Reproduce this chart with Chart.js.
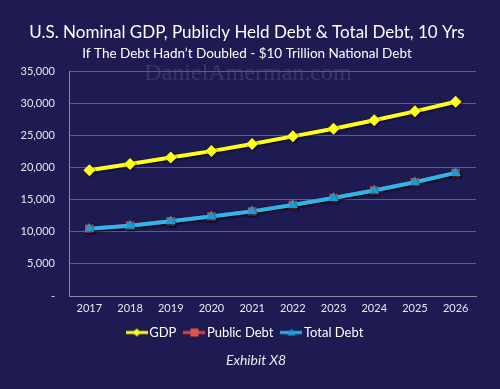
<!DOCTYPE html>
<html>
<head>
<meta charset="utf-8">
<script src="https://cdn.jsdelivr.net/npm/chart.js@4"></script>
<style>
    html, body { margin: 0; padding: 0; background: #1e1a52; }
    #wrap { width: 500px; height: 389px; position: relative; }
</style>
</head>
<body>
<div id="wrap"><canvas id="gdpChart"></canvas></div>
<script>
// Données
const years = ['2017', '2018', '2019', '2020', '2021', '2022', '2023', '2024', '2025', '2026'];
const gdp = [19600, 20600, 21600, 22600, 23700, 24900, 26100, 27400, 28800, 30300];
const publicDebt = [10500, 10950, 11650, 12400, 13200, 14200, 15300, 16450, 17750, 19200];
const totalDebt = [10500, 10950, 11650, 12400, 13200, 14200, 15300, 16450, 17750, 19200];
const yTicks = [0, 5000, 10000, 15000, 20000, 25000, 30000, 35000];

const BG = '#1e1a52';
const YELLOW = '#ffff1a';
const BLUE = '#2cb7ec';
const RED = '#d9493f';
const FONT = 'Lato, "Open Sans", sans-serif';

// Petite icône ligne + marqueur pour la légende
function legendIcon(color, markerColor, shape) {
    const c = document.createElement('canvas');
    c.width = 22; c.height = 10;
    const g = c.getContext('2d');
    g.strokeStyle = color;
    g.lineWidth = 3;
    g.beginPath(); g.moveTo(0, 5); g.lineTo(22, 5); g.stroke();
    g.fillStyle = markerColor;
    g.beginPath();
    if (shape === 'diamond') {
        g.moveTo(11, 1); g.lineTo(15, 5); g.lineTo(11, 9); g.lineTo(7, 5);
    } else if (shape === 'square') {
        g.rect(7, 1, 8, 8);
    } else {
        g.moveTo(11, 1); g.lineTo(15, 8); g.lineTo(7, 8);
    }
    g.closePath(); g.fill();
    return c;
}

const bgPlugin = {
    id: 'bg',
    beforeDraw(chart) {
        const ctx = chart.ctx;
        ctx.save();
        ctx.fillStyle = BG;
        ctx.fillRect(0, 0, chart.width, chart.height);
        // filigrane
        ctx.font = '24px "Liberation Serif", "DejaVu Serif", serif';
        ctx.fillStyle = 'rgba(255,255,255,0.12)';
        ctx.textAlign = 'center';
        ctx.textBaseline = 'alphabetic';
        ctx.fillText('DanielAmerman.com', 248, 80);
        ctx.restore();
    },
    afterDraw(chart) {
        const ctx = chart.ctx;
        ctx.save();
        ctx.font = 'italic 14px ' + FONT;
        ctx.fillStyle = '#e8e8f0';
        ctx.textAlign = 'center';
        ctx.textBaseline = 'middle';
        ctx.fillText('Exhibit X8', 256, 360);
        ctx.restore();
    },
    beforeDatasetsDraw(chart) {
        const ctx = chart.ctx;
        ctx.save();
        ctx.shadowColor = 'rgba(0,0,0,0.7)';
        ctx.shadowBlur = 2;
        ctx.shadowOffsetX = 1;
        ctx.shadowOffsetY = 1;
    },
    afterDatasetsDraw(chart) {
        chart.ctx.restore();
    }
};

new Chart(document.getElementById('gdpChart'), {
    type: 'line',
    data: {
        labels: years,
        datasets: [
            {
                label: 'GDP',
                data: gdp,
                order: 0,
                borderColor: YELLOW,
                backgroundColor: YELLOW,
                borderWidth: 4,
                pointStyle: 'rectRot',
                pointRadius: 6,
                pointBorderWidth: 0,
                pointBackgroundColor: YELLOW
            },
            {
                label: 'Public Debt',
                data: publicDebt,
                order: 2,
                borderColor: RED,
                backgroundColor: RED,
                borderWidth: 4,
                pointStyle: 'rect',
                pointRadius: 6,
                pointBorderWidth: 0,
                pointBackgroundColor: RED
            },
            {
                label: 'Total Debt',
                data: totalDebt,
                order: 1,
                borderColor: BLUE,
                backgroundColor: BLUE,
                borderWidth: 4,
                pointStyle: 'triangle',
                pointRadius: 6,
                pointBorderWidth: 0,
                pointBackgroundColor: '#1c9ad6'
            }
        ]
    },
    options: {
        responsive: true,
        maintainAspectRatio: false,
        animation: false,
        layout: { padding: { left: 18, right: 24, bottom: 40 } },
        plugins: {
            title: {
                display: true,
                text: 'U.S. Nominal GDP, Publicly Held Debt & Total Debt, 10 Yrs',
                color: '#ffffff',
                font: { family: FONT, size: 17, weight: 'normal' },
                padding: { top: 22, bottom: 3 }
            },
            subtitle: {
                display: true,
                text: 'If The Debt Hadn\u2019t Doubled - $10 Trillion National Debt',
                color: '#ffffff',
                font: { family: FONT, size: 13.5 },
                padding: { bottom: 10 }
            },
            legend: {
                position: 'bottom',
                labels: {
                    color: '#ffffff',
                    font: { family: FONT, size: 13 },
                    usePointStyle: true,
                    pointStyleWidth: 12,
                    boxHeight: 10,
                    padding: 12,
                    generateLabels() {
                        return [
                            { text: 'GDP', pointStyle: legendIcon(YELLOW, YELLOW, 'diamond'), fontColor: '#fff', lineWidth: 0, datasetIndex: 0 },
                            { text: 'Public Debt', pointStyle: legendIcon(RED, '#e0524a', 'square'), fontColor: '#fff', lineWidth: 0, datasetIndex: 1 },
                            { text: 'Total Debt', pointStyle: legendIcon(BLUE, '#1c9ad6', 'triangle'), fontColor: '#fff', lineWidth: 0, datasetIndex: 2 }
                        ];
                    }
                }
            },
            tooltip: { enabled: false }
        },
        scales: {
            x: {
                offset: true,
                afterFit(scale) { scale.height = 18; },
                grid: { display: false, drawTicks: false },
                border: { color: '#8a8aa0', width: 1 },
                ticks: {
                    color: '#e8e8f0',
                    font: { family: FONT, size: 11 },
                    padding: 6,
                    maxRotation: 0
                }
            },
            y: {
                min: 0,
                max: 35000,
                afterBuildTicks(scale) {
                    scale.ticks = yTicks.map(v => ({ value: v }));
                },
                afterFit(scale) { scale.width = 51; },
                grid: { color: '#5e5c80', lineWidth: 1, drawTicks: false },
                border: { color: '#8a8aa0', width: 1 },
                ticks: {
                    color: '#e8e8f0',
                    font: { family: FONT, size: 11 },
                    padding: 14,
                    callback: v => v === 0 ? '-' : v.toLocaleString('en-US')
                }
            }
        }
    },
    plugins: [bgPlugin]
});
</script>
</body>
</html>
